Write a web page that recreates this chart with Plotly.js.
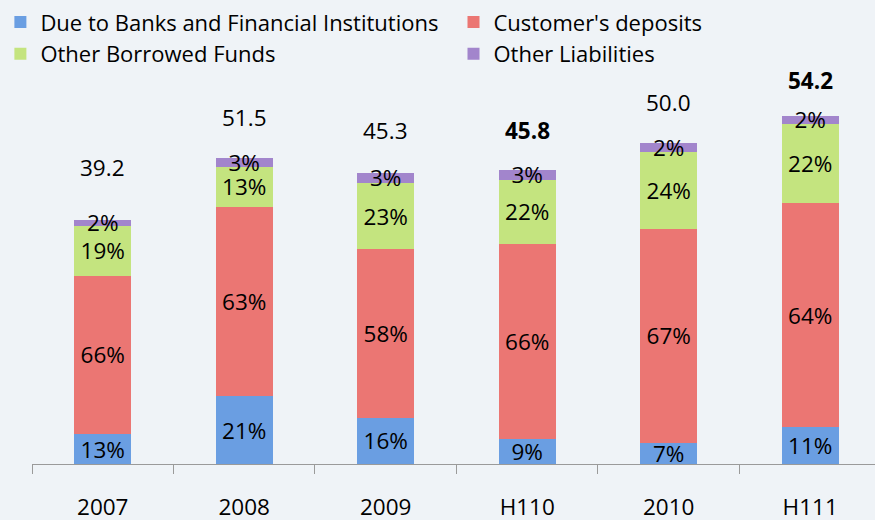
<!DOCTYPE html>
<html>
<head>
<meta charset="utf-8">
<script src="https://cdn.plot.ly/plotly-3.0.1.min.js"></script>
<style>html,body{margin:0;padding:0;background:#EFF3F7;} #chart{width:875px;height:520px;}</style>
</head>
<body>
<div id="chart"></div>
<script>
// ---- data ----
const categories = ['2007', '2008', '2009', 'H110', '2010', 'H111'];
const dueToBanks = [4.67, 10.59, 7.17, 3.89, 3.32, 5.76];
const customerDeposits = [24.66, 29.39, 26.28, 30.42, 33.29, 34.84];
const otherBorrowed = [7.79, 6.32, 10.33, 9.92, 12.04, 12.40];
const otherLiabilities = [0.89, 1.36, 1.56, 1.56, 1.36, 1.20];
const duePct = ['13%', '21%', '16%', '9%', '7%', '11%'];
const depositPct = ['66%', '63%', '58%', '66%', '67%', '64%'];
const borrowedPct = ['19%', '13%', '23%', '22%', '24%', '22%'];
const liabilitiesPct = ['2%', '3%', '3%', '3%', '2%', '2%'];
const totalLabels = ['39.2', '51.5', '45.3', '45.8', '50.0', '54.2'];
const boldTotals = [false, false, false, true, false, true];

// ---- styling ----
const FONT = 'Open Sans, Noto Sans, sans-serif';
const LABEL_SIZE = 22.5;
const LEGEND_SIZE = 22;
const labelLift = [52, 40, 42, 39, 40, 35];

function barTrace(name, values, texts, color, legendId) {
  return {
    type: 'bar', name: name, x: categories, y: values,
    text: texts, textposition: 'inside', insidetextanchor: 'middle',
    textangle: 0,
    textfont: {family: FONT, size: LABEL_SIZE, color: '#000'},
    marker: {color: color, line: {width: 0}},
    legend: legendId,
    hoverinfo: 'skip'
  };
}

const traces = [
  barTrace('Due to Banks and Financial Institutions', dueToBanks, duePct, '#6A9EE2', 'legend'),
  barTrace("Customer's deposits", customerDeposits, depositPct, '#EB7673', 'legend2'),
  barTrace('Other Borrowed Funds', otherBorrowed, borrowedPct, '#C4E47F', 'legend'),
  barTrace('Other Liabilities', otherLiabilities, liabilitiesPct, '#A285CC', 'legend2')
];

const stackTops = categories.map((c, i) =>
  dueToBanks[i] + customerDeposits[i] + otherBorrowed[i] + otherLiabilities[i]);

// category index used as x so that numeric-looking names are not read as numbers
const annotations = categories.map((c, i) => ({
  x: i, y: stackTops[i], xref: 'x', yref: 'y',
  text: boldTotals[i] ? '<b>' + totalLabels[i] + '</b>' : totalLabels[i],
  showarrow: false, yanchor: 'middle', yshift: labelLift[i],
  font: {family: FONT, size: LABEL_SIZE, color: '#000'}
}));

function legendBox(xPos) {
  return {
    orientation: 'v', traceorder: 'normal',
    xref: 'paper', yref: 'paper',
    x: xPos, xanchor: 'left', y: 1.205, yanchor: 'top',
    font: {family: FONT, size: LEGEND_SIZE, color: '#000'},
    bgcolor: 'rgba(0,0,0,0)', tracegroupgap: 0, itemwidth: 30
  };
}

const layout = {
  width: 875, height: 520,
  paper_bgcolor: '#EFF3F7', plot_bgcolor: '#EFF3F7',
  margin: {l: 32, r: 0, t: 80, b: 56},
  barmode: 'stack', bargap: 0.6,
  uniformtext: {mode: 'show', minsize: LABEL_SIZE},
  font: {family: FONT, size: LABEL_SIZE, color: '#000'},
  showlegend: true,
  legend: legendBox(-0.0375),
  legend2: legendBox(0.5),
  xaxis: {
    type: 'category', range: [-0.5, 5.458],
    showline: true, linecolor: '#9A9A9A', linewidth: 1,
    ticks: 'outside', tickson: 'boundaries', ticklen: 9, tickcolor: '#9A9A9A',
    ticklabelstandoff: 23,
    tickfont: {family: FONT, size: LABEL_SIZE, color: '#000'},
    showgrid: false, zeroline: false, fixedrange: true
  },
  yaxis: {
    range: [0, 59.8], visible: false, showgrid: false, zeroline: false, fixedrange: true
  },
  annotations: annotations
};

Plotly.newPlot('chart', traces, layout, {displayModeBar: false, staticPlot: true});
</script>
</body>
</html>
